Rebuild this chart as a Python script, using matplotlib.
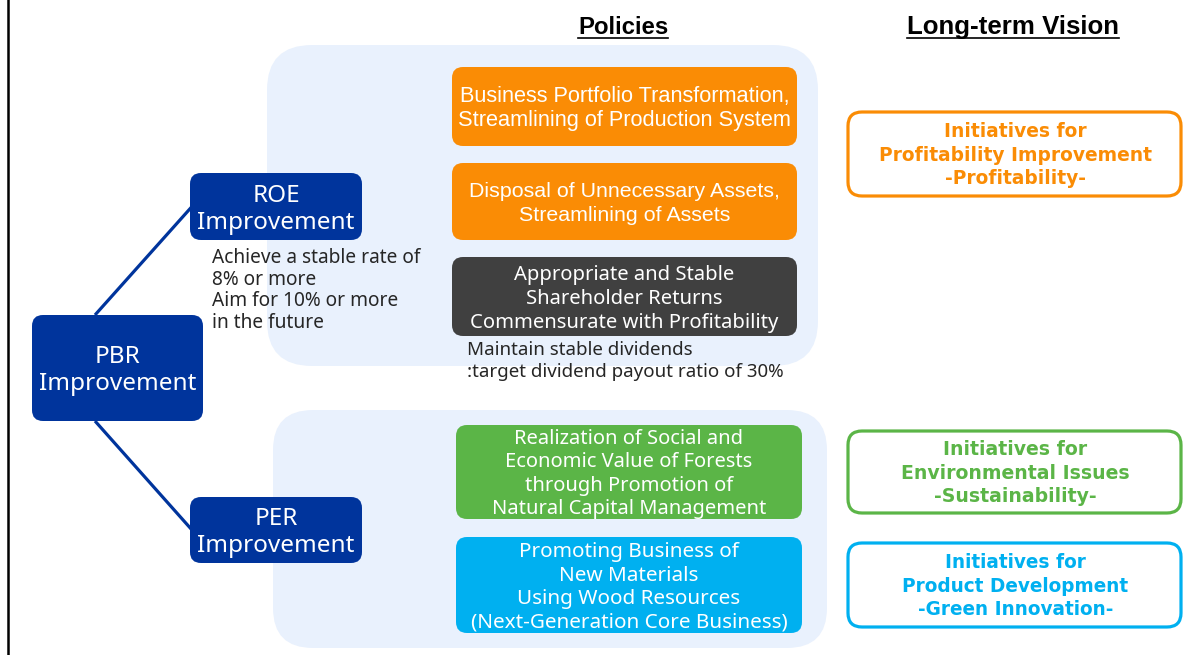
import matplotlib.pyplot as plt
from matplotlib import font_manager
from matplotlib.patches import FancyBboxPatch

W, H = 1184, 655

# diagram texts
HEADINGS = ["Policies", "Long-term Vision"]
DRIVERS = [["PBR", "Improvement"], ["ROE", "Improvement"], ["PER", "Improvement"]]
ROE_NOTE = ["Achieve a stable rate of", "8% or more", "Aim for 10% or more", "in the future"]
POLICIES = [
    ["Business Portfolio Transformation,", "Streamlining of Production System"],
    ["Disposal of Unnecessary Assets,", "Streamlining of Assets"],
    ["Appropriate and Stable", "Shareholder Returns", "Commensurate with Profitability"],
    ["Realization of Social and", "Economic Value of Forests",
     "through Promotion of", "Natural Capital Management"],
    ["Promoting Business of", "New Materials", "Using Wood Resources",
     "(Next-Generation Core Business)"],
]
DIVIDEND_NOTE = ["Maintain stable dividends", ":target dividend payout ratio of 30%"]
VISIONS = [
    ["Initiatives for", "Profitability Improvement", "-Profitability-"],
    ["Initiatives for", "Environmental Issues", "-Sustainability-"],
    ["Initiatives for", "Product Development", "-Green Innovation-"],
]

NAVY = "#00349C"
PANEL = "#E9F1FD"
ORANGE = "#FA8C05"
DARK = "#404040"
GREEN = "#5BB547"
BLUE = "#00B0F0"
INK = "#262626"

installed = {f.name for f in font_manager.fontManager.ttflist}
SANS = "Noto Sans" if "Noto Sans" in installed else "DejaVu Sans"
NARROW = "Liberation Sans Narrow" if "Liberation Sans Narrow" in installed else "Liberation Sans"
BOLD = "DejaVu Sans"

fig = plt.figure(figsize=(W / 100, H / 100), dpi=100)
ax = fig.add_axes([0, 0, 1, 1])
ax.set_xlim(0, W)
ax.set_ylim(H, 0)
ax.axis("off")
renderer = fig.canvas.get_renderer()


def fit_size(lines, target_w, family, weight="normal"):
    widest = 0
    for s in lines:
        t = ax.text(0, 0, s, fontsize=20, family=family, weight=weight)
        widest = max(widest, t.get_window_extent(renderer).width)
        t.remove()
    return 20 * target_w / widest


def draw_lines(lines, x, y0, step, target_w, color, family, weight="normal", ha="center"):
    size = fit_size(lines, target_w, family, weight)
    px = size * 100 / 72
    out = []
    for i, s in enumerate(lines):
        out.append(ax.text(x, y0 + i * step + 0.36 * px, s, fontsize=size, color=color,
                           family=family, weight=weight, ha=ha, va="baseline", zorder=5))
    return out


def box(x0, y0, x1, y1, r, face, edge="none", lw=0, z=3):
    ax.add_patch(FancyBboxPatch((x0, y0), x1 - x0, y1 - y0,
                                boxstyle=f"round,pad=0,rounding_size={r}",
                                fc=face, ec=edge, lw=lw, zorder=z))


# frame line on the left
ax.plot([8, 8], [0, H], color="black", lw=1.8, zorder=2)

# background panels
box(267, 45, 818, 366, 45, PANEL, z=1)
box(273, 410, 827, 648, 40, PANEL, z=1)

# headings with underline
for label, cx in zip(HEADINGS, [623, 1013]):
    t = draw_lines([label], cx, 25, 0, 90 if label == "Policies" else 212,
                   "black", NARROW, weight="bold")[0]
    bb = t.get_window_extent(renderer)
    xa = ax.transData.inverted().transform((bb.x0, 0))[0]
    xb = ax.transData.inverted().transform((bb.x1, 0))[0]
    ax.plot([xa, xb], [38, 38], color="black", lw=1.2, zorder=5)

# driver boxes and tree lines
driver_boxes = [(32, 315, 203, 421), (190, 173, 362, 240), (190, 497, 362, 563)]
pbr = driver_boxes[0]
for child, y_start in zip(driver_boxes[1:], [pbr[1], pbr[3]]):
    ax.plot([95, child[0] + 2], [y_start, (child[1] + child[3]) / 2],
            color=NAVY, lw=2.3, zorder=2, solid_capstyle="butt")
for (x0, y0, x1, y1), lines in zip(driver_boxes, DRIVERS):
    box(x0, y0, x1, y1, 11, NAVY)
    draw_lines(lines, (x0 + x1) / 2, (y0 + y1) / 2 - 13.5, 27, 157, "white", SANS)

draw_lines(ROE_NOTE, 212, 256, 21.7, 208, INK, SANS, ha="left")

# policy boxes
policy_boxes = [(452, 67, 797, 146), (452, 163, 797, 240), (452, 257, 797, 336),
                (456, 425, 802, 519), (456, 537, 802, 633)]
policy_colors = [ORANGE, ORANGE, DARK, GREEN, BLUE]
policy_widths = [333, 311, 308, 273, 317]
policy_fonts = [NARROW, NARROW, SANS, SANS, SANS]
for (x0, y0, x1, y1), lines, c, tw, fam in zip(policy_boxes, POLICIES, policy_colors,
                                              policy_widths, policy_fonts):
    box(x0, y0, x1, y1, 11, c)
    n = len(lines)
    step = 24 if n < 4 else 23.5
    first = (y0 + y1) / 2 - step * (n - 1) / 2
    draw_lines(lines, (x0 + x1) / 2, first, step, tw, "white", fam)

draw_lines(DIVIDEND_NOTE, 467, 348, 22, 317, INK, SANS, ha="left")

# long-term vision boxes
vision_boxes = [(848, 112, 1181, 196), (848, 431, 1181, 513), (848, 543, 1181, 627)]
vision_colors = [ORANGE, GREEN, BLUE]
vision_widths = [273, 228, 227]
for (x0, y0, x1, y1), lines, c, tw in zip(vision_boxes, VISIONS, vision_colors, vision_widths):
    box(x0, y0, x1, y1, 14, "white", edge=c, lw=2.3)
    first = (y0 + y1) / 2 - 23.5
    draw_lines(lines, (x0 + x1) / 2 + 1, first, 23.5, tw, c, BOLD, weight="bold")

fig.savefig("out.png", dpi=100)
